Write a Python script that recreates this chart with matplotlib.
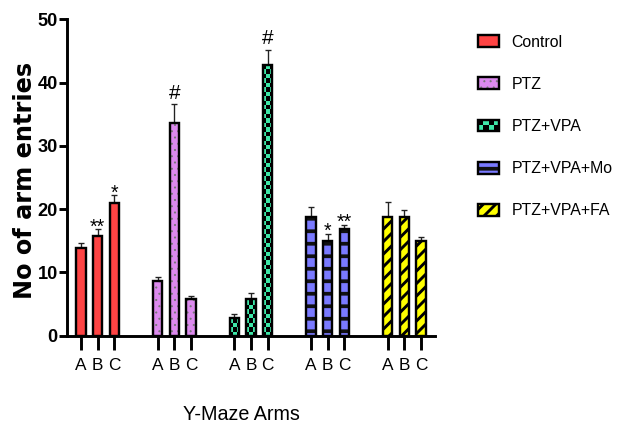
import matplotlib
matplotlib.use("Agg")
import matplotlib.pyplot as plt
import numpy as np
from matplotlib.patches import Rectangle
from matplotlib.legend_handler import HandlerBase
from matplotlib.colors import ListedColormap

# ---------------- data ----------------
groups = ["Control", "PTZ", "PTZ+VPA", "PTZ+VPA+Mo", "PTZ+VPA+FA"]
arms = ["A", "B", "C"]
control_mean = [13.8, 15.7, 20.9]
control_err = [0.8, 1.1, 1.3]
ptz_mean = [8.7, 33.6, 5.8]
ptz_err = [0.6, 3.0, 0.4]
vpa_mean = [2.8, 5.8, 42.7]
vpa_err = [0.6, 0.9, 2.5]
mo_mean = [18.7, 14.9, 16.8]
mo_err = [1.6, 1.2, 0.7]
fa_mean = [18.7, 18.7, 14.9]
fa_err = [2.5, 1.1, 0.7]
means = [control_mean, ptz_mean, vpa_mean, mo_mean, fa_mean]
errs = [control_err, ptz_err, vpa_err, mo_err, fa_err]

sig_group = [0, 0, 1, 2, 3, 3]
sig_arm = [1, 2, 1, 2, 1, 2]
sig_text = ["**", "*", "#", "#", "*", "**"]

y_ticks = [0, 10, 20, 30, 40, 50]

# ---------------- styles ----------------
DPI = 75
W, H = 622, 430
sans = ["Liberation Sans", "DejaVu Sans"]

styles = [
    dict(face="#FF4444", hatch=None, hcol="black", hlw=1.0, checker=False),
    dict(face="#DC8AEE", hatch="..", hcol="#777777", hlw=0.8, checker=False),
    dict(face="#3EE8A8", hatch=None, hcol="black", hlw=1.0, checker=True),
    dict(face="#7A7AFF", hatch="-", hcol="#111111", hlw=3.6, checker=False),
    dict(face="#FFFF00", hatch="//", hcol="black", hlw=2.8, checker=False),
]
EDGE_LW = 2.3
BAR_W = 0.56
GROUP_STEP = 4.6

plt.rcParams["hatch.linewidth"] = 3.0

fig = plt.figure(figsize=(W / DPI, H / DPI), dpi=DPI)
ax_l, ax_r, ax_b, ax_t = 66.7, 435, 335.7, 19.3
ax = fig.add_axes([ax_l / W, 1 - ax_b / H, (ax_r - ax_l) / W, (ax_b - ax_t) / H])

checker_cmap = ListedColormap(["black", "#3EE8A8"])

positions = []
legend_handles = []
for g, (m, e, st) in enumerate(zip(means, errs, styles)):
    xs = [g * GROUP_STEP + j for j in range(len(arms))]
    positions += xs
    fill = ax.bar(xs, m, width=BAR_W, color=st["face"], edgecolor=st["hcol"],
                  linewidth=0, hatch=st["hatch"], zorder=2)
    for p in fill:
        if hasattr(p, "set_hatch_linewidth"):
            p.set_hatch_linewidth(st["hlw"])
    if st["checker"]:
        for p in fill:
            x0, w, h = p.get_x(), p.get_width(), p.get_height()
            ny = max(2, int(round(h / 0.7)))
            nx = 3
            arr = (np.add.outer(np.arange(ny), np.arange(nx)) % 2).astype(float)
            im = ax.imshow(arr, extent=[x0, x0 + w, 0, ny * 0.7], origin="lower",
                           cmap=checker_cmap, vmin=0, vmax=1, aspect="auto",
                           interpolation="nearest", zorder=2.1)
            im.set_clip_path(p)
    ax.bar(xs, m, width=BAR_W, color="none", edgecolor="black",
           linewidth=EDGE_LW, zorder=3)
    ax.errorbar(xs, m, yerr=[np.zeros(len(m)), e], fmt="none", ecolor="#222222",
                elinewidth=1.3, capsize=3, capthick=1.3, zorder=1)
    legend_handles.append(fill[0])

for g, j, t in zip(sig_group, sig_arm, sig_text):
    x = g * GROUP_STEP + j
    top = means[g][j] + errs[g][j]
    if t == "#":
        ax.annotate(t, (x, top), xytext=(0, 5), textcoords="offset points",
                    ha="center", va="baseline", fontsize=20, family=sans)
    else:
        ax.annotate(t, (x, top), xytext=(0, -3), textcoords="offset points",
                    ha="center", va="baseline", fontsize=19, family=sans)

ax.set_ylim(0, 50)
ax.set_xlim(-0.86, (ax_r - 81) / 16.67)
ax.set_yticks(y_ticks)
ax.set_yticklabels([str(v) for v in y_ticks], fontsize=17.5, fontweight="bold",
                   family=sans)
ax.set_xticks(positions)
ax.set_xticklabels(arms * len(groups), fontsize=16.5, family=sans)
ax.tick_params(axis="x", length=13, width=2.8, pad=8)
ax.tick_params(axis="y", length=7.5, width=2.8, pad=1)
for s in ["top", "right"]:
    ax.spines[s].set_visible(False)
for s in ["left", "bottom"]:
    ax.spines[s].set_linewidth(2.8)


class BoxHandler(HandlerBase):
    def __init__(self, st):
        super().__init__()
        self.st = st

    def create_artists(self, legend, orig_handle, xdescent, ydescent, width,
                       height, fontsize, trans):
        st = self.st
        x0, y0 = -xdescent, -ydescent
        arts = []
        base = Rectangle((x0, y0), width, height, facecolor=st["face"],
                         edgecolor=st["hcol"], linewidth=0, hatch=st["hatch"],
                         transform=trans)
        if hasattr(base, "set_hatch_linewidth"):
            base.set_hatch_linewidth(st["hlw"])
        arts.append(base)
        if st["checker"]:
            arts[0].set_facecolor("black")
            nx, ny = 4, 2
            cw, ch = width / nx, height / ny
            for i in range(nx):
                for k in range(ny):
                    if (i + k) % 2 == 0:
                        arts.append(Rectangle((x0 + i * cw, y0 + k * ch), cw, ch,
                                              facecolor=st["face"], edgecolor="none",
                                              transform=trans))
        arts.append(Rectangle((x0, y0), width, height, facecolor="none",
                              edgecolor="black", linewidth=EDGE_LW, transform=trans))
        return arts


handler_map = {h: BoxHandler(st) for h, st in zip(legend_handles, styles)}
fig.legend(legend_handles, groups, handler_map=handler_map, loc="center left",
           bbox_to_anchor=(478 / W, 1 - 126.5 / H), frameon=False,
           prop={"family": sans, "size": 15.2}, handlelength=1.33,
           handleheight=0.76, handletextpad=0.8, labelspacing=1.72,
           borderpad=0, borderaxespad=0)

fig.text(241 / W, 1 - 414 / H, "Y-Maze Arms", ha="center", va="center",
         fontsize=19, family=sans)
fig.text(25 / W, 1 - 180 / H, "No of arm entries", ha="center", va="center",
         rotation=90, fontsize=23, fontweight="bold", family="DejaVu Sans")

fig.savefig("out.png", dpi=DPI)
